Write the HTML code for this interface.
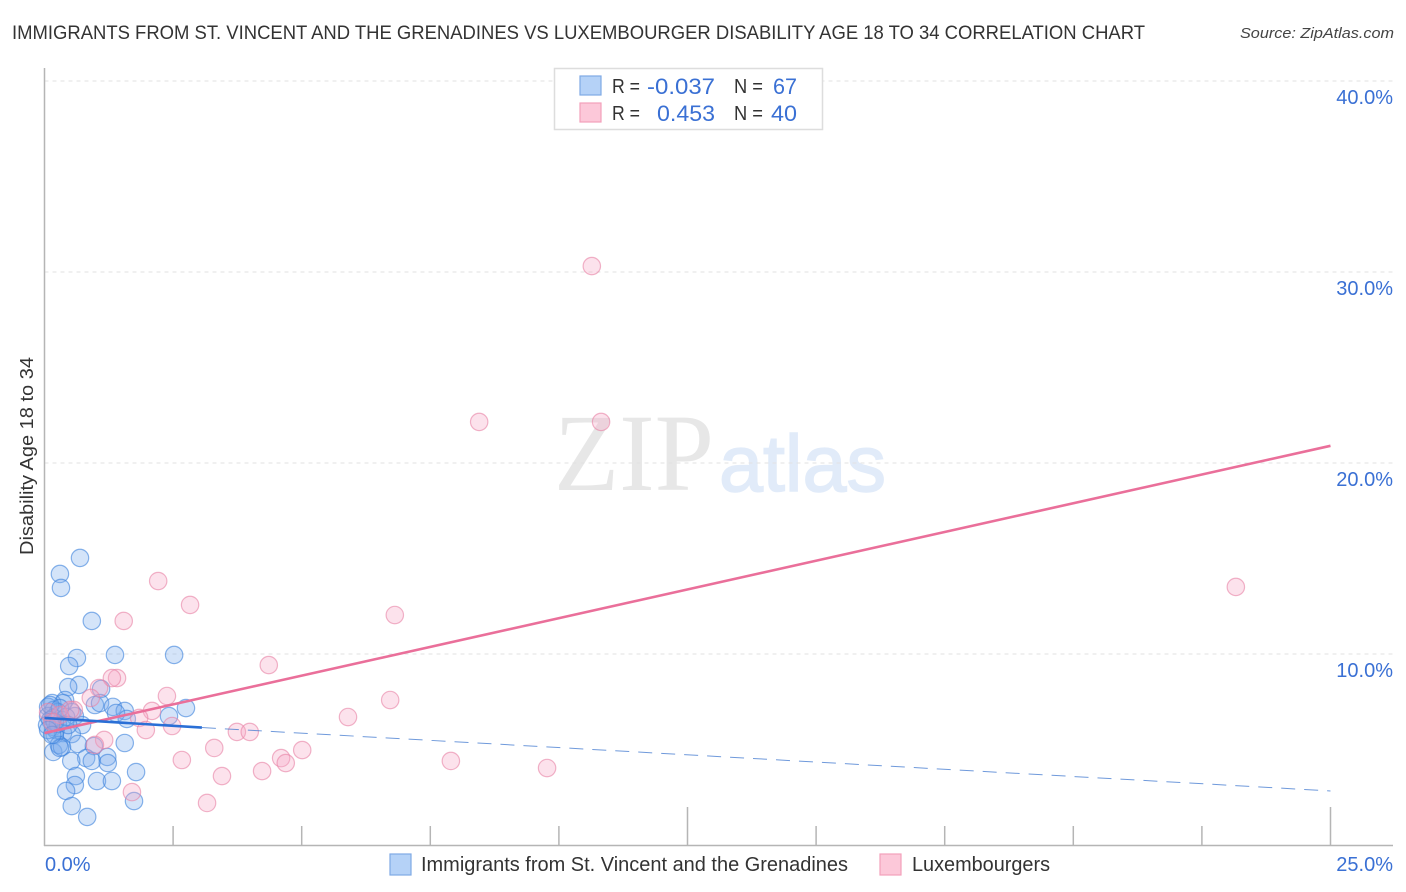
<!DOCTYPE html>
<html lang="en">
<head>
<meta charset="utf-8">
<title>Correlation chart</title>
<style>
html,body{margin:0;padding:0;background:#fff;width:1406px;height:892px;overflow:hidden}
svg{display:block;font-family:"Liberation Sans",sans-serif}
</style>
</head>
<body>
<svg id="chart" xmlns="http://www.w3.org/2000/svg" width="1406" height="892" viewBox="0 0 1406 892">
  <text x="12" y="39" font-size="19.5" fill="#333" textLength="1133" lengthAdjust="spacingAndGlyphs">IMMIGRANTS FROM ST. VINCENT AND THE GRENADINES VS LUXEMBOURGER DISABILITY AGE 18 TO 34 CORRELATION CHART</text>
  <text x="1394" y="38" font-size="15" font-style="italic" fill="#444" text-anchor="end" textLength="154" lengthAdjust="spacingAndGlyphs">Source: ZipAtlas.com</text>

  <g>
    <text x="554" y="490" font-family="'Liberation Serif',serif" font-size="110" fill="#e7e7e7" textLength="160" lengthAdjust="spacingAndGlyphs">ZIP</text>
    <text x="719" y="491" font-size="80" fill="#e1ebf9" stroke="#e1ebf9" stroke-width="1.5" textLength="167" lengthAdjust="spacingAndGlyphs">atlas</text>
  </g>

  <g id="grid"></g>
  <g id="axes"></g>
  <g id="blue-points"></g>
  <g id="pink-points"></g>
  <g id="trends"></g>
  <g id="labels"></g>

  <text transform="translate(33 456) rotate(-90)" font-size="18" fill="#333" text-anchor="middle" textLength="198" lengthAdjust="spacingAndGlyphs">Disability Age 18 to 34</text>

  <g>
    <rect x="554.5" y="68.5" width="268" height="61" fill="#fff" stroke="#ddd" stroke-width="1.5"/>
    <rect x="580" y="76" width="21" height="19" fill="#b5d2f7" stroke="#7fa9e4" stroke-width="1.2"/>
    <rect x="580" y="103" width="21" height="19" fill="#fcc8d9" stroke="#f2a0bb" stroke-width="1.2"/>
    <g font-size="20" fill="#333">
      <text x="612" y="93" textLength="28" lengthAdjust="spacingAndGlyphs">R =</text>
      <text x="734" y="93" textLength="29" lengthAdjust="spacingAndGlyphs">N =</text>
      <text x="612" y="120" textLength="28" lengthAdjust="spacingAndGlyphs">R =</text>
      <text x="734" y="120" textLength="29" lengthAdjust="spacingAndGlyphs">N =</text>
    </g>
    <g font-size="22" fill="#3a70d4">
      <text x="647" y="94" textLength="68" lengthAdjust="spacingAndGlyphs">-0.037</text>
      <text x="773" y="94" textLength="24" lengthAdjust="spacingAndGlyphs">67</text>
      <text x="657" y="121" textLength="58" lengthAdjust="spacingAndGlyphs">0.453</text>
      <text x="771" y="121" textLength="26" lengthAdjust="spacingAndGlyphs">40</text>
    </g>
  </g>

  <g>
    <rect x="390" y="854" width="21" height="21" fill="#b5d2f7" stroke="#7fa9e4" stroke-width="1.2"/>
    <text x="421" y="871" font-size="20" fill="#333" textLength="427" lengthAdjust="spacingAndGlyphs">Immigrants from St. Vincent and the Grenadines</text>
    <rect x="880" y="854" width="21" height="21" fill="#fcc8d9" stroke="#f2a0bb" stroke-width="1.2"/>
    <text x="912" y="871" font-size="20" fill="#333" textLength="138" lengthAdjust="spacingAndGlyphs">Luxembourgers</text>
  </g>
</svg>
<script>
const blueX = [0.69,0.30,0.32,0.92,1.37,2.52,0.63,0.48,0.67,0.46,1.10,0.40,0.15,0.36,0.98,1.08,1.33,1.56,1.39,2.75,2.42,1.60,0.07,0.18,0.53,0.26,0.59,0.07,0.17,0.34,0.73,0.17,0.22,0.36,0.53,0.20,1.56,0.65,0.96,0.17,0.28,0.34,0.30,1.22,0.81,0.52,0.92,1.23,1.78,0.61,1.02,1.31,0.59,0.42,0.53,1.74,0.83,0.11,0.05,0.26,0.11,0.42,0.20,0.07,0.15,0.46,0.30];
const blueY = [15.03,14.19,13.46,11.73,9.95,9.95,9.79,9.37,8.38,8.27,8.17,7.59,7.43,7.43,7.33,7.43,7.23,7.02,6.91,7.17,6.75,6.60,7.23,7.07,6.96,6.96,6.75,6.75,6.65,6.54,6.28,6.18,6.02,5.86,5.81,5.76,5.34,5.29,5.18,4.87,5.24,5.13,5.08,4.61,4.55,4.40,4.40,4.29,3.82,3.61,3.35,3.35,3.14,2.83,2.04,2.30,1.47,6.54,6.28,6.34,7.33,6.70,6.44,6.02,5.76,6.28,7.17];
const pinkX = [10.64,8.45,10.82,23.16,2.21,2.83,1.54,6.81,4.36,1.41,1.31,1.06,0.90,2.38,6.72,5.90,0.57,2.09,1.84,2.48,1.97,0.07,0.30,0.50,3.74,3.99,3.30,1.16,0.98,2.67,5.01,4.60,4.69,3.45,4.23,7.90,9.77,1.70,3.16,0.15];
const pinkY = [30.31,22.15,22.15,13.51,13.82,12.57,11.73,12.04,9.42,8.74,8.74,8.22,7.70,7.80,7.59,6.70,7.07,7.02,6.65,6.23,6.02,6.96,6.81,7.07,5.92,5.92,5.08,5.50,5.24,4.45,4.97,4.55,4.29,3.61,3.87,4.40,4.03,2.77,2.20,6.44];
const yTicks = [10,20,30,40];
const yTickLabels = ["10.0%","20.0%","30.0%","40.0%"];
const xTicks = [2.5,5,7.5,10,12.5,15,17.5,20,22.5,25];
const xMajorTicks = [12.5,25];
const xEndLabels = ["0.0%","25.0%"];
const blueTrendX = [0,3.06,25];
const blueTrendY = [6.65,6.15,2.83];
const pinkTrendX = [0,25];
const pinkTrendY = [5.86,20.9];

const NS = 'http://www.w3.org/2000/svg';
const sx = v => 44.5 + v * 51.44;
const sy = v => 845 - v * 19.1;
function mk(tag, parent, attrs, text) {
  const el = document.createElementNS(NS, tag);
  for (const k in attrs) el.setAttribute(k, attrs[k]);
  if (text !== undefined) el.textContent = text;
  document.getElementById(parent).appendChild(el);
  return el;
}

yTicks.forEach((t, i) => {
  const line = mk('line', 'grid', {x1: 44.5, x2: 1393, y1: sy(t), y2: sy(t), stroke: '#e2e2e2', 'stroke-width': 1, 'stroke-dasharray': '4 4'});
  
  
  const label = mk('text', 'labels', {x: 1393, y: sy(t) + 23, 'font-size': 20, fill: '#3a70d4', 'text-anchor': 'end'}, yTickLabels[i]);
  
  
});

const yAxis = mk('line', 'axes', {x1: 44.5, x2: 44.5, y1: 68, y2: 846, stroke: '#b5b5b5', 'stroke-width': 1.5});


const xAxis = mk('line', 'axes', {x1: 44, x2: 1393, y1: 845.5, y2: 845.5, stroke: '#b5b5b5', 'stroke-width': 1.5});


xTicks.forEach(t => {
  const top = xMajorTicks.includes(t) ? 807 : 826;
  const tick = mk('line', 'axes', {x1: sx(t), x2: sx(t), y1: top, y2: 845, stroke: '#b5b5b5', 'stroke-width': 1.5});
  
  
});
const xLabelStart = mk('text', 'labels', {x: 45, y: 871, 'font-size': 20, fill: '#3a70d4'}, xEndLabels[0]);


const xLabelEnd = mk('text', 'labels', {x: 1393, y: 871, 'font-size': 20, fill: '#3a70d4', 'text-anchor': 'end'}, xEndLabels[1]);



blueX.forEach((v, i) => {
  const c = mk('circle', 'blue-points', {cx: sx(v), cy: sy(blueY[i]), r: 8.7, fill: 'rgba(120,170,235,0.32)', stroke: 'rgba(60,130,220,0.6)', 'stroke-width': 1.2});
  
  
});
pinkX.forEach((v, i) => {
  const c = mk('circle', 'pink-points', {cx: sx(v), cy: sy(pinkY[i]), r: 8.7, fill: 'rgba(245,165,195,0.32)', stroke: 'rgba(232,130,165,0.6)', 'stroke-width': 1.2});
  
  
});

const blueDash = mk('line', 'trends', {x1: sx(blueTrendX[1]), y1: sy(blueTrendY[1]), x2: sx(blueTrendX[2]), y2: sy(blueTrendY[2]), stroke: '#3f78cf', 'stroke-width': 1, 'stroke-dasharray': '14 9', opacity: 0.75});


const pinkLine = mk('line', 'trends', {x1: sx(pinkTrendX[0]), y1: sy(pinkTrendY[0]), x2: sx(pinkTrendX[1]), y2: sy(pinkTrendY[1]), stroke: '#ea6f9a', 'stroke-width': 2.6});


const blueSolid = mk('line', 'trends', {x1: sx(blueTrendX[0]), y1: sy(blueTrendY[0]), x2: sx(blueTrendX[1]), y2: sy(blueTrendY[1]), stroke: '#2a6fd6', 'stroke-width': 2.6});


</script>
</body>
</html>
